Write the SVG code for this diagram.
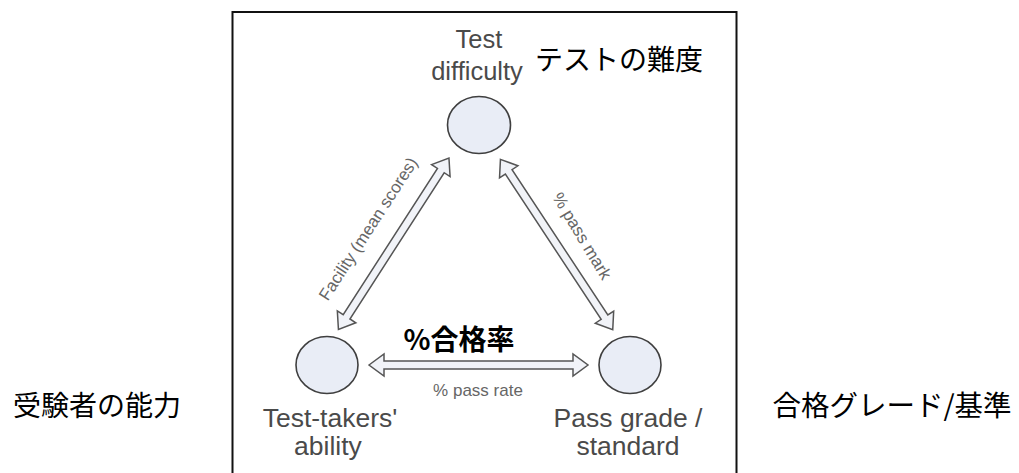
<svg xmlns="http://www.w3.org/2000/svg" width="1019" height="473" viewBox="0 0 1019 473">
<defs>
<style>
.lbl{font-family:"Liberation Sans",Arial,sans-serif;fill:#4a4a4a;font-size:26.5px;text-anchor:middle}
.small{font-family:"Liberation Sans",Arial,sans-serif;fill:#666;font-size:17px;text-anchor:middle}
.jp{font-family:"Noto Sans CJK JP","Noto Sans",sans-serif;fill:#000;font-size:28px;text-anchor:middle}
.node{fill:#e9edf6;stroke:#3f3f3f;stroke-width:1.6}
.arr{fill:#f1f3f8;stroke:#555;stroke-width:1.5;stroke-linejoin:miter}
</style>
<path id="dbl" d="M-102,0 L-87,-11 L-87,-4 L87,-4 L87,-11 L102,0 L87,11 L87,4 L-87,4 L-87,11 Z"/>
</defs>
<rect x="0" y="0" width="1019" height="473" fill="#fff"/>
<rect x="232.5" y="12" width="504" height="470" fill="none" stroke="#111" stroke-width="2"/>
<g id="connectors">
<use href="#dbl" class="arr" transform="translate(393.7,243.7) rotate(-57.2)"/>
<use href="#dbl" class="arr" transform="translate(556.6,244.5) rotate(56.6)"/>
<path class="arr" d="M369,365 L384,354 L384,361 L573,361 L573,354 L588,365 L573,376 L573,369 L384,369 L384,376 Z"/>
<text class="small" transform="translate(373,232) rotate(-57)">Facility (mean scores)</text>
<text class="small" transform="translate(577,239) rotate(59)">% pass mark</text>
<text class="small" x="478" y="396">% pass rate</text>
<text class="jp" x="459" y="350" font-weight="bold">%合格率</text>
</g>
<g id="node-difficulty">
<ellipse class="node" cx="479" cy="125" rx="31.5" ry="28.5"/>
<text class="lbl" x="479" y="48" style="font-size:25.5px">Test</text>
<text class="lbl" x="477" y="80" style="font-size:25.5px">difficulty</text>
<text class="jp" x="619" y="70">テストの難度</text>
</g>
<g id="node-ability">
<ellipse class="node" cx="327" cy="365" rx="31" ry="28.5"/>
<text class="lbl" x="330" y="427">Test-takers'</text>
<text class="lbl" x="328" y="455">ability</text>
</g>
<g id="node-pass">
<ellipse class="node" cx="630" cy="365" rx="31" ry="28.5"/>
<text class="lbl" x="628" y="427">Pass grade /</text>
<text class="lbl" x="628" y="455">standard</text>
</g>
<g id="side-labels">
<text class="jp" x="97" y="416">受験者の能力</text>
<text class="jp" x="892" y="416" style="font-size:28.5px">合格グレード/基準</text>
</g>
</svg>
